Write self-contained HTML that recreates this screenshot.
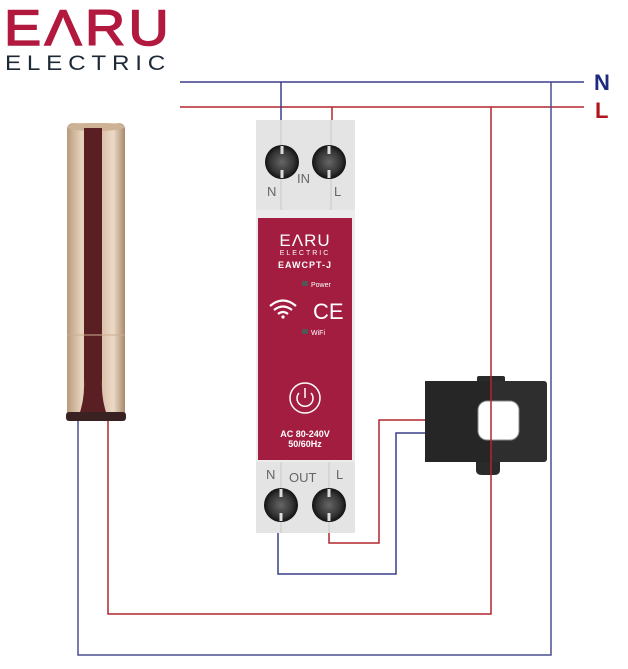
<!DOCTYPE html>
<html><head><meta charset="utf-8"><style>
html,body{margin:0;padding:0;background:#fff;width:628px;height:669px;overflow:hidden}
svg{display:block}
text{font-family:"Liberation Sans",sans-serif}
</style></head><body>
<svg width="628" height="669" viewBox="0 0 628 669" xmlns="http://www.w3.org/2000/svg">
<defs>
<linearGradient id="gold" x1="0" x2="1" y1="0" y2="0">
<stop offset="0" stop-color="#b89a7c"/><stop offset="0.25" stop-color="#e8d3bd"/><stop offset="0.5" stop-color="#d2b598"/><stop offset="0.8" stop-color="#ecdac7"/><stop offset="1" stop-color="#a8896c"/>
</linearGradient>
<radialGradient id="scr" cx="0.5" cy="0.5" r="0.5">
<stop offset="0" stop-color="#666"/><stop offset="0.7" stop-color="#333"/><stop offset="1" stop-color="#111"/>
</radialGradient>
</defs>
<!-- logo -->
<text x="4" y="45" font-size="50" fill="#b2193f" letter-spacing="3" textLength="168" lengthAdjust="spacingAndGlyphs" stroke="#b2193f" stroke-width="1.5">EΛRU</text>
<text x="5" y="70" font-size="21" fill="#1d2a36" letter-spacing="5" textLength="166" lengthAdjust="spacingAndGlyphs">ELECTRIC</text>
<!-- mains lines -->
<line x1="180" y1="82" x2="584" y2="82" stroke="#3a3f8a" stroke-width="1.5"/>
<line x1="180" y1="107" x2="584" y2="107" stroke="#b0262e" stroke-width="1.5"/>
<text x="594" y="90" font-size="22" font-weight="bold" fill="#1c2a80">N</text>
<text x="595" y="118" font-size="22" font-weight="bold" fill="#b0141e">L</text>
<!-- wires -->
<g fill="none" stroke-width="1.5">
<polyline points="281,82 281,122" stroke="#3a3f8a"/>
<polyline points="332,107 332,122" stroke="#b0262e"/>
<polyline points="551,82 551,655 78,655 78,420" stroke="#4a4e8e"/>
<polyline points="491,107 491,614 108,614 108,420" stroke="#b0262e"/>
<polyline points="329,530 329,543 379,543 379,420 426,420" stroke="#b0262e"/>
<polyline points="278,530 278,574 396,574 396,433 426,433" stroke="#3a3f8a"/>
</g>
<!-- heater -->
<rect x="67" y="123" width="58" height="296" rx="6" fill="url(#gold)"/>
<ellipse cx="96" cy="127" rx="29" ry="4" fill="#cdb296"/>
<path d="M84,128 L102,128 L102,380 Q101,400 108,418 L78,418 Q85,400 84,380 Z" fill="#5a1f22"/>
<line x1="67" y1="335" x2="125" y2="335" stroke="#c9ad90" stroke-width="1"/>
<rect x="66" y="412" width="60" height="9" rx="3" fill="#3a2222"/>
<!-- device top -->
<rect x="256" y="120" width="99" height="90" fill="#e4e4e4"/>
<line x1="281" y1="120" x2="281" y2="210" stroke="#c8c8c8"/>
<line x1="331" y1="120" x2="331" y2="210" stroke="#c8c8c8"/>
<circle cx="282" cy="162" r="17" fill="url(#scr)"/>
<circle cx="329" cy="162" r="17" fill="url(#scr)"/>
<g stroke="#ddd" stroke-width="3"><line x1="282" y1="146" x2="282" y2="154"/><line x1="282" y1="170" x2="282" y2="178"/><line x1="329" y1="146" x2="329" y2="154"/><line x1="329" y1="170" x2="329" y2="178"/></g>
<text x="297" y="183" font-size="13" fill="#666">IN</text>
<text x="267" y="196" font-size="13" fill="#666">N</text>
<text x="334" y="196" font-size="13" fill="#666">L</text>
<rect x="256" y="210" width="99" height="258" fill="#ececec"/>
<rect x="258" y="218" width="94" height="242" fill="#a31d40"/>
<text x="305" y="246" font-size="17" fill="#fff" text-anchor="middle" letter-spacing="1">EΛRU</text>
<text x="305" y="255" font-size="7" fill="#fff" text-anchor="middle" letter-spacing="2">ELECTRIC</text>
<text x="305" y="268" font-size="9" font-weight="bold" fill="#fff" text-anchor="middle" letter-spacing="1">EAWCPT-J</text>
<rect x="302" y="281" width="6" height="5" fill="#555"/>
<text x="311" y="287" font-size="7" fill="#fff">Power</text>
<g fill="none" stroke="#fff" stroke-width="2.2"><path d="M270,306 Q283,295 296,306"/><path d="M274,310 Q283,303 292,310"/><path d="M278,314 Q283,310 288,314"/></g>
<circle cx="283" cy="317" r="1.6" fill="#fff"/>
<text x="313" y="319" font-size="22" fill="#fff">CE</text>
<rect x="302" y="329" width="6" height="5" fill="#555"/>
<text x="311" y="335" font-size="7" fill="#fff">WiFi</text>
<circle cx="305" cy="398" r="15" fill="none" stroke="#fff" stroke-width="1.5"/>
<path d="M299,393 A8,8 0 1 0 311,393" fill="none" stroke="#fff" stroke-width="1.5"/>
<line x1="305" y1="388" x2="305" y2="398" stroke="#fff" stroke-width="1.5"/>
<text x="305" y="437" font-size="9" font-weight="bold" fill="#fff" text-anchor="middle">AC 80-240V</text>
<text x="305" y="447" font-size="9" font-weight="bold" fill="#fff" text-anchor="middle">50/60Hz</text>
<!-- device bottom -->
<rect x="256" y="462" width="99" height="71" fill="#e4e4e4"/>
<line x1="281" y1="462" x2="281" y2="533" stroke="#c8c8c8"/>
<line x1="329" y1="462" x2="329" y2="533" stroke="#c8c8c8"/>
<circle cx="281" cy="505" r="17" fill="url(#scr)"/>
<circle cx="329" cy="505" r="17" fill="url(#scr)"/>
<g stroke="#ddd" stroke-width="3"><line x1="281" y1="489" x2="281" y2="497"/><line x1="281" y1="513" x2="281" y2="521"/><line x1="329" y1="489" x2="329" y2="497"/><line x1="329" y1="513" x2="329" y2="521"/></g>
<text x="266" y="479" font-size="13" fill="#666">N</text>
<text x="289" y="482" font-size="13" fill="#666">OUT</text>
<text x="336" y="479" font-size="13" fill="#666">L</text>
<!-- CT clamp -->
<rect x="477" y="376" width="28" height="8" rx="2" fill="#2a2a2a"/>
<path d="M476,460 L500,460 L500,470 Q500,475 494,475 L482,475 Q476,475 476,470 Z" fill="#2a2a2a"/>
<rect x="425" y="381" width="122" height="81" rx="3" fill="#2e2e2e"/>
<rect x="425" y="381" width="66" height="81" fill="#262626"/>
<rect x="478" y="401" width="41" height="39" rx="9" fill="#fff" stroke="#888" stroke-width="1"/>
<line x1="491" y1="376" x2="491" y2="475" stroke="#b0262e" stroke-width="1.5"/>
</svg>
</body></html>
